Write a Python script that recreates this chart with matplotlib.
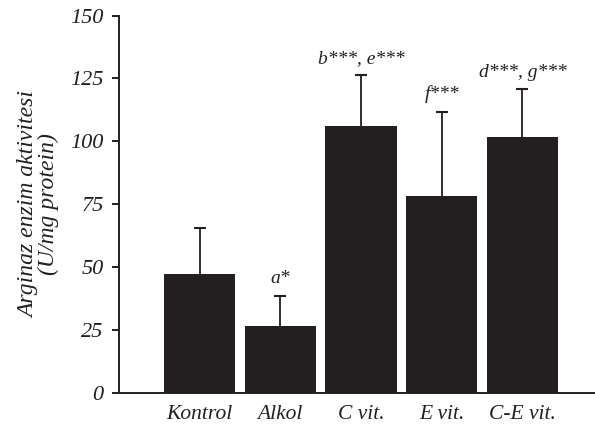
import matplotlib
matplotlib.use('Agg')
import matplotlib.pyplot as plt
import numpy as np

# values
groups = ['Kontrol', 'Alkol', 'C vit.', 'E vit.', 'C-E vit.']
means = [47.2, 26.5, 106.0, 78.3, 101.7]
sd = [18.2, 12.0, 20.3, 33.4, 19.0]
marks = ['', 'a*', 'b***, e***', 'f***', 'd***, g***']
yticks = [0, 25, 50, 75, 100, 125, 150]

ink = '#231f20'
plt.rcParams['font.family'] = ['Liberation Serif', 'DejaVu Serif']
plt.rcParams['font.style'] = 'italic'

fig = plt.figure(figsize=(5.95, 4.32), dpi=100)
ax = fig.add_axes([0.2, 0.091, 0.8, 0.873])

x = np.arange(len(groups))
ax.bar(x, means, width=0.885, color=ink, zorder=2)
eb = ax.errorbar(x, means, yerr=[np.zeros(len(sd)), sd], fmt='none', ecolor=ink,
                 elinewidth=1.3, capsize=4.5, capthick=1.5, zorder=1)
# only the upper cap is drawn in the original
eb[1][0].set_visible(False)

for i in range(len(groups)):
    if marks[i]:
        ax.annotate(marks[i], (x[i], means[i] + sd[i]), xytext=(0, 9),
                    textcoords='offset points', ha='center', va='baseline',
                    fontsize=14, color=ink, style='italic')

ax.set_xlim(-1.0, 4.9)
ax.set_ylim(0, 150)
ax.set_yticks(yticks)
ax.set_xticks(x)
ax.set_xticklabels(groups)
ax.spines['top'].set_visible(False)
ax.spines['right'].set_visible(False)
ax.spines['left'].set_linewidth(1.4)
ax.spines['bottom'].set_linewidth(1.4)
ax.spines['left'].set_color(ink)
ax.spines['bottom'].set_color(ink)
ax.tick_params(axis='y', direction='out', length=5, width=1.4, pad=6,
               labelsize=16, colors=ink)
ax.tick_params(axis='x', length=0, pad=9, labelsize=15.5, colors=ink)
for lab in ax.get_xticklabels() + ax.get_yticklabels():
    lab.set_style('italic')

ax.set_ylabel('Arginaz enzim aktivitesi\n(U/mg protein)', fontsize=17,
              color=ink, style='italic', linespacing=0.95, labelpad=8)

fig.savefig('out.png', dpi=100)
